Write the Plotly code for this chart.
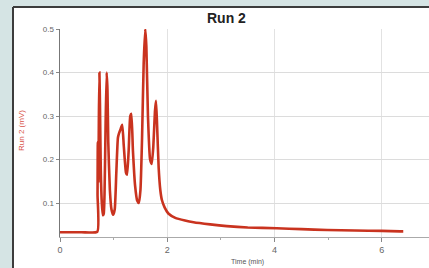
import plotly.graph_objects as go

# Data (time in min, signal in mV)
time_min = [0.00, 0.40, 0.695, 0.700, 0.705, 0.715, 0.725, 0.735, 0.745, 0.760, 0.780, 0.800,
            0.815, 0.830, 0.850, 0.870, 0.885, 0.900, 0.930, 0.960, 0.990, 1.020, 1.050,
            1.080, 1.100, 1.130, 1.160, 1.190, 1.230, 1.250, 1.280, 1.310, 1.330, 1.360,
            1.400, 1.440, 1.470, 1.500, 1.530, 1.560, 1.590, 1.610, 1.640, 1.680, 1.710,
            1.740, 1.770, 1.790, 1.810, 1.840, 1.870, 1.900, 1.950, 2.020, 2.150, 2.330,
            2.490, 2.800, 3.110, 3.500, 4.040, 4.500, 4.980, 5.500, 6.000, 6.340, 6.400]
run2_mv = [0.033, 0.033, 0.034, 0.120, 0.240, 0.150, 0.300, 0.400, 0.330, 0.180, 0.100, 0.072,
           0.075, 0.120, 0.280, 0.400, 0.360, 0.240, 0.130, 0.085, 0.073, 0.085, 0.170,
           0.250, 0.260, 0.270, 0.280, 0.230, 0.170, 0.165, 0.220, 0.300, 0.305, 0.220,
           0.140, 0.105, 0.100, 0.130, 0.250, 0.420, 0.500, 0.460, 0.300, 0.200, 0.190,
           0.230, 0.310, 0.335, 0.280, 0.180, 0.130, 0.107, 0.090, 0.076, 0.066, 0.060,
           0.056, 0.051, 0.047, 0.044, 0.042, 0.040, 0.038, 0.037, 0.036, 0.035, 0.035]

x_ticks = [0, 2, 4, 6]
x_tick_labels = ["0", "2", "4", "6"]
y_ticks = [0.1, 0.2, 0.3, 0.4, 0.5]
y_tick_labels = ["0.1", "0.2", "0.3", "0.4", "0.5"]

W, H = 429, 268
L, R, T, B = 60, 0, 29, 31
pw, ph = W - L - R, H - T - B

def px_to_paper_x(px):
    return (px - L) / pw

def px_to_paper_y(py):
    return (H - B - py) / ph

fig = go.Figure()
fig.add_trace(go.Scatter(
    x=time_min, y=run2_mv, mode="lines",
    line=dict(color="#c9331f", width=2.6, shape="spline", smoothing=0.5),
    hoverinfo="skip", showlegend=False,
))

fig.update_layout(
    width=W, height=H,
    margin=dict(l=L, r=R, t=T, b=B, pad=0),
    paper_bgcolor="#d5e4e4",
    plot_bgcolor="white",
    font=dict(family="Liberation Sans, Arial, sans-serif", color="#555"),
    xaxis=dict(
        range=[0, 6.88], tickvals=x_ticks, ticktext=x_tick_labels,
        ticks="outside", ticklen=4, tickcolor="#888", tickwidth=1,
        showgrid=True, gridcolor="#e2e2e2", gridwidth=1,
        showline=True, linecolor="#aaa", linewidth=1,
        zeroline=False, tickfont=dict(size=9, color="#666"),
        minor=dict(tickvals=[1, 3, 5], ticks="outside", ticklen=2, tickcolor="#aaa"),
        fixedrange=True, automargin=False,
    ),
    yaxis=dict(
        range=[0.022, 0.5], tickvals=y_ticks, ticktext=y_tick_labels,
        ticks="outside", ticklen=3, tickcolor="#888", tickwidth=1,
        showgrid=True, gridcolor="#dcdcdc", gridwidth=1,
        showline=True, linecolor="#777", linewidth=1.5,
        zeroline=False, tickfont=dict(size=8, color="#666"),
        fixedrange=True, automargin=False,
    ),
    shapes=[
        dict(type="rect", xref="paper", yref="paper", layer="below",
             x0=px_to_paper_x(13), x1=px_to_paper_x(W + 2),
             y0=px_to_paper_y(H + 2), y1=px_to_paper_y(7),
             fillcolor="white", line=dict(width=0)),
        dict(type="line", xref="paper", yref="paper",
             x0=px_to_paper_x(13), x1=px_to_paper_x(W + 2),
             y0=px_to_paper_y(7), y1=px_to_paper_y(7),
             line=dict(color="#3c3c3c", width=2)),
        dict(type="line", xref="paper", yref="paper",
             x0=px_to_paper_x(13), x1=px_to_paper_x(13),
             y0=px_to_paper_y(H + 2), y1=px_to_paper_y(7),
             line=dict(color="#3c3c3c", width=2)),
    ],
    annotations=[
        dict(text="<b>Run 2</b>", xref="paper", yref="paper",
             x=px_to_paper_x(226), y=px_to_paper_y(18),
             showarrow=False, xanchor="center", yanchor="middle",
             font=dict(size=14, color="#222")),
        dict(text="Run 2 (mV)", xref="paper", yref="paper",
             x=px_to_paper_x(21), y=px_to_paper_y(131),
             showarrow=False, xanchor="center", yanchor="middle", textangle=-90,
             font=dict(size=8, color="#d9534a")),
        dict(text="Time (min)", xref="paper", yref="paper",
             x=px_to_paper_x(247), y=px_to_paper_y(262),
             showarrow=False, xanchor="center", yanchor="middle",
             font=dict(size=7, color="#555")),
    ],
)

fig.write_html(
    "out.html",
    config={"displayModeBar": False, "staticPlot": True},
    post_script="document.body.style.margin='0';document.body.style.overflow='hidden';",
)
